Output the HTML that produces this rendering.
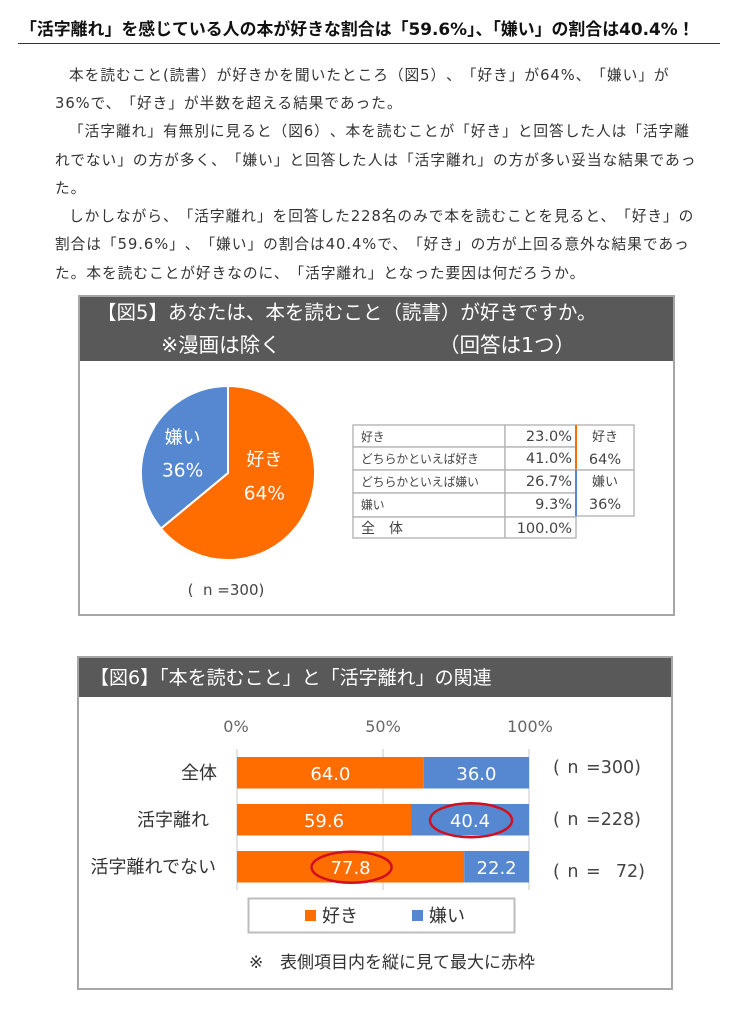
<!DOCTYPE html>
<html lang="ja">
<head>
<meta charset="utf-8">
<title>活字離れ</title>
<style>
html,body{margin:0;padding:0;background:#fff;}
#page{position:relative;width:740px;height:1024px;overflow:hidden;background:#fff;font-family:"DejaVu Sans","Noto Sans CJK JP",sans-serif;color:#333;text-spacing-trim:space-all;}
.t{position:absolute;white-space:nowrap;}
.line{position:absolute;left:55px;white-space:nowrap;font-size:14.7px;letter-spacing:.97px;line-height:20px;color:#333;}
.box{position:absolute;box-sizing:border-box;border:2px solid #a6a6a6;background:#fff;}
.hd{position:absolute;background:#595959;color:#fff;white-space:nowrap;}
svg{position:absolute;left:0;top:0;}
svg text{font-family:"DejaVu Sans","Noto Sans CJK JP",sans-serif;white-space:pre;text-spacing-trim:space-all;}
</style>
</head>
<body>
<div id="page">
<div class="t" style="left:20px;top:17px;font-size:16.9px;font-weight:bold;color:#111;line-height:24px;text-spacing-trim:normal;">「活字離れ」を感じている人の本が好きな割合は「59.6%」、「嫌い」の割合は40.4%！</div>
<div style="position:absolute;left:18px;top:43px;width:702px;height:1px;background:#333;"></div>

<div class="line" style="left:69px;top:66px;">本を読むこと(読書）が好きかを聞いたところ（図5）、「好き」が64%、「嫌い」が</div>
<div class="line" style="top:94px;">36%で、「好き」が半数を超える結果であった。</div>
<div class="line" style="left:69px;top:122px;">「活字離れ」有無別に見ると（図6）、本を読むことが「好き」と回答した人は「活字離</div>
<div class="line" style="top:151px;">れでない」の方が多く、「嫌い」と回答した人は「活字離れ」の方が多い妥当な結果であっ</div>
<div class="line" style="top:179px;">た。</div>
<div class="line" style="left:69px;top:207px;">しかしながら、「活字離れ」を回答した228名のみで本を読むことを見ると、「好き」の</div>
<div class="line" style="top:235px;">割合は「59.6%」、「嫌い」の割合は40.4%で、「好き」の方が上回る意外な結果であっ</div>
<div class="line" style="top:264px;">た。本を読むことが好きなのに、「活字離れ」となった要因は何だろうか。</div>

<div class="box" style="left:78px;top:295px;width:597px;height:321px;"></div>
<div class="hd" style="left:80px;top:297px;width:593px;height:64px;"></div>
<div class="t" style="left:97px;top:298px;font-size:19.5px;line-height:30px;color:#fff;">【図5】あなたは、本を読むこと（読書）が好きですか。</div>
<div class="t" style="left:161px;top:330px;font-size:20.5px;line-height:30px;color:#fff;">※漫画は除く</div>
<div class="t" style="left:439px;top:330px;font-size:20.5px;line-height:30px;color:#fff;">（回答は1つ）</div>

<div class="box" style="left:77px;top:656px;width:596px;height:334px;"></div>
<div class="hd" style="left:79px;top:658px;width:592px;height:39px;"></div>
<div class="t" style="left:90px;top:663px;font-size:19px;line-height:30px;color:#fff;text-spacing-trim:normal;">【図6】「本を読むこと」と「活字離れ」の関連</div>

<svg id="charts" width="740" height="1024" viewBox="0 0 740 1024"></svg>
</div>

<script>
// Figure 5 pie data
var pieLabels = ['好き', '嫌い'];
var pieValues = [64, 36];
var pieColors = ['#ff6c00', '#5588d0'];

// Figure 5 table data
var tableRows = ['好き', 'どちらかといえば好き', 'どちらかといえば嫌い', '嫌い', '全　体'];
var tableValues = ['23.0%', '41.0%', '26.7%', '9.3%', '100.0%'];

// Figure 6 bar data
var barCategories = ['全体', '活字離れ', '活字離れでない'];
var seriesLike = [64.0, 59.6, 77.8];
var seriesDislike = [36.0, 40.4, 22.2];
var sampleLabels = ['( n =300)', '( n =228)', '( n =  72)'];
var axisTicks = [0, 50, 100];
var highlightedDislike = [false, true, false];
var highlightedLike = [false, false, true];

var NS = 'http://www.w3.org/2000/svg';
var svg = document.getElementById('charts');
function mk(tag, attrs, parent) {
  var el = document.createElementNS(NS, tag);
  for (var k in attrs) { el.setAttribute(k, attrs[k]); }
  (parent || svg).appendChild(el);
  return el;
}
function txt(str, x, y, size, fill, anchor) {
  var el = mk('text', { x: x, y: y, 'font-size': size, fill: fill, 'text-anchor': anchor || 'middle' });
  el.textContent = str;
  return el;
}

// ---- Pie ----
var cx = 228, cy = 473, r = 87;
var pieTotal = pieValues.reduce(function (a, b) { return a + b; }, 0);
function pieAngle(v) { return v / pieTotal * Math.PI * 2; }
var start = 0;
pieValues.forEach(function (v, i) {
  var a0 = start, a1 = start + pieAngle(v);
  start = a1;
  var large = a1 - a0 > Math.PI ? 1 : 0;
  var d = 'M' + cx + ' ' + cy +
    ' L' + (cx + r * Math.sin(a0)) + ' ' + (cy - r * Math.cos(a0)) +
    ' A' + r + ' ' + r + ' 0 ' + large + ' 1 ' + (cx + r * Math.sin(a1)) + ' ' + (cy - r * Math.cos(a1)) + ' Z';
  var p = mk('path', { d: d, fill: pieColors[i], stroke: '#fff', 'stroke-width': 2 });
  
  
  var mid = (a0 + a1) / 2;
  var lx = cx + r * 0.5 * Math.sin(mid), ly = cy - r * 0.5 * Math.cos(mid);
  var dx = i === 0 ? -3 : -6;
  var t1 = txt(pieLabels[i], lx + dx, ly + (i === 0 ? -26 : -11), 18, '#fff');
  
  
  var t2 = txt(v + '%', lx + dx, ly + (i === 0 ? 8 : 22), 18.6, '#fff');
  
  
});
var pn = txt('(  n =300)', 226, 595, 15, '#444');



// ---- Table ----
var tx0 = 353, tx1 = 505, tx2 = 576, tx3 = 634;
var rowTops = [425, 447, 470, 493, 517];
var rowBottom = 538;
var g = '#b5b5b5';
tableRows.forEach(function (label, i) {
  var y0 = rowTops[i], y1 = i < 4 ? rowTops[i + 1] : rowBottom;
  var rc = mk('rect', { x: tx0, y: y0, width: tx1 - tx0, height: y1 - y0, fill: '#fff', stroke: g, 'stroke-width': 1.4 });
  
  
  var rv = mk('rect', { x: tx1, y: y0, width: tx2 - tx1, height: y1 - y0, fill: '#fff', stroke: g, 'stroke-width': 1.4 });
  
  
  var tl = txt(label, tx0 + 8, y0 + 16, i === 4 ? 14 : 11.8, '#444', 'start');
  
  
  var tv = txt(tableValues[i], tx2 - 4, y0 + 16, 14.5, '#444', 'end');
  
  
});
var summaryBoxes = [[rowTops[0], rowTops[2], pieLabels[0], pieValues[0], pieColors[0]],
                    [rowTops[2], 516, pieLabels[1], pieValues[1], pieColors[1]]];
summaryBoxes.forEach(function (b) {
  var rs = mk('rect', { x: tx2, y: b[0], width: tx3 - tx2, height: b[1] - b[0], fill: '#fff', stroke: g, 'stroke-width': 1.4 });
  
  
  var ln = mk('line', { x1: tx2, x2: tx2, y1: b[0], y2: b[1], stroke: b[4], 'stroke-width': 2 });
  
  
  var sa = txt(b[2], 605, b[0] + 16, 13, '#444');
  
  
  var sb = txt(b[3] + '%', 605, b[0] + 39, 14.5, '#444');
  
  
});

// ---- Bars ----
var x0 = 237, x100 = 529;
function xScale(v) { return x0 + (x100 - x0) * v / 100; }
var bandTop = 757, bandStep = 47, barH = 31.5;
function yBand(i) { return bandTop + bandStep * i; }
var categoryRight = [217, 209, 216];

axisTicks.forEach(function (tk) {
  var l = mk('line', { x1: xScale(tk), x2: xScale(tk), y1: 749, y2: 890, stroke: '#c8c8c8', 'stroke-width': 1 });
  
  
  var t = txt(tk + '%', xScale(tk) + (tk === 100 ? 1 : 0) - (tk === 0 ? 1 : 0), 732, 16, '#666');
  
  
});

barCategories.forEach(function (cat, i) {
  var y = yBand(i), cy2 = y + barH / 2;
  var b1 = mk('rect', { x: xScale(0), y: y, width: xScale(seriesLike[i]) - xScale(0), height: barH, fill: pieColors[0] });
  
  
  var b2 = mk('rect', { x: xScale(seriesLike[i]), y: y, width: xScale(seriesLike[i] + seriesDislike[i]) - xScale(seriesLike[i]), height: barH, fill: pieColors[1] });
  
  
  var c = txt(cat, categoryRight[i], cy2 + 6, 18, '#333', 'end');
  
  
  var mid1 = xScale(seriesLike[i] / 2), mid2 = xScale(seriesLike[i] + seriesDislike[i] / 2);
  var v1 = txt(seriesLike[i].toFixed(1), mid1, cy2 + 7, 18, '#fff');
  
  
  var v2 = txt(seriesDislike[i].toFixed(1), mid2, cy2 + 7, 18, '#fff');
  
  
  var n = txt(sampleLabels[i], 553, cy2 + 5 + (i - 1) * 5, 17.5, '#444', 'start');
  n.setAttribute('word-spacing', '2');
  
  
  if (highlightedDislike[i]) {
    var e1 = mk('ellipse', { cx: mid2 + 1, cy: cy2 + 0.5, rx: 41, ry: 17, fill: 'none', stroke: '#d0101e', 'stroke-width': 2.5 });
    
    
  }
  if (highlightedLike[i]) {
    var e2 = mk('ellipse', { cx: mid1 + 1, cy: cy2 + 0.5, rx: 40, ry: 15.5, fill: 'none', stroke: '#d0101e', 'stroke-width': 2.5 });
    
    
  }
});

// ---- Legend ----
var lg = mk('rect', { x: 248.5, y: 898.5, width: 266, height: 34, fill: '#fff', stroke: '#bdbdbd', 'stroke-width': 2 });


var legendX = [305, 412];
pieLabels.forEach(function (label, i) {
  var sw = mk('rect', { x: legendX[i], y: 910, width: 11, height: 11, fill: pieColors[i] });
  
  
  var lt = txt(label, legendX[i] + 17, 922, 18, '#333', 'start');
  
  
});
var noteMark = txt('※', 249, 968, 17, '#333', 'start');


var note = txt('表側項目内を縦に見て最大に赤枠', 280, 968, 17, '#333', 'start');


</script>
</body>
</html>
